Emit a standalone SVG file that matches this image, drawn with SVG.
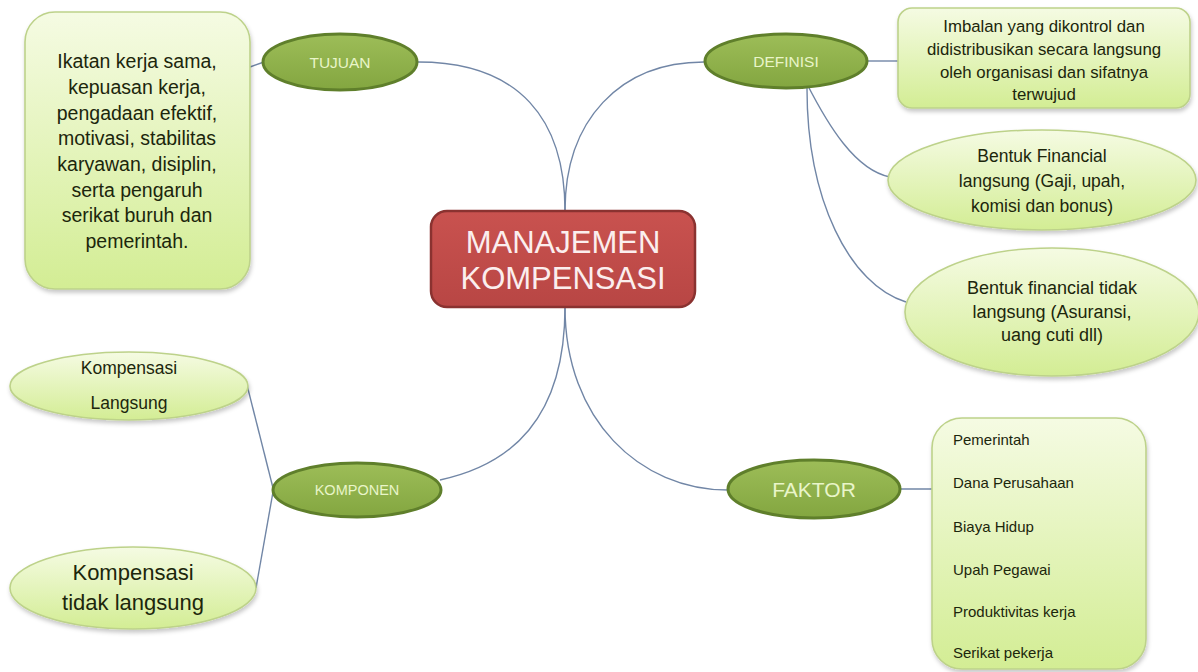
<svg xmlns="http://www.w3.org/2000/svg" width="1198" height="672" viewBox="0 0 1198 672">
<defs>
<linearGradient id="lg" x1="0" y1="0" x2="0" y2="1">
<stop offset="0" stop-color="#f5fbe3"/>
<stop offset="1" stop-color="#d3ed94"/>
</linearGradient>
<linearGradient id="gg" x1="0" y1="0" x2="0" y2="1">
<stop offset="0" stop-color="#9dbd58"/>
<stop offset="1" stop-color="#83a640"/>
</linearGradient>
<linearGradient id="rg" x1="0" y1="0" x2="0" y2="1">
<stop offset="0" stop-color="#c9524f"/>
<stop offset="1" stop-color="#b84644"/>
</linearGradient>
<filter id="sh" x="-10%" y="-10%" width="120%" height="125%">
<feDropShadow dx="1" dy="3" stdDeviation="2" flood-color="#000" flood-opacity="0.22"/>
</filter>
</defs>
<style>
.light{fill:url(#lg);stroke:#bdd28a;stroke-width:1.6;filter:url(#sh)}
.green{fill:url(#gg);stroke:#5f7f2b;stroke-width:3}
.gt{font-family:"Liberation Sans",Arial,sans-serif;fill:#e9f5c9;text-anchor:middle}
.t{font-family:"Liberation Sans",Arial,sans-serif;fill:#1c260c;text-anchor:middle}
.tl{font-family:"Liberation Sans",Arial,sans-serif;fill:#1c260c;font-size:15px}
.c{fill:none;stroke:#7186a6;stroke-width:1.4}
</style>
<rect width="1198" height="672" fill="#ffffff"/>
<g id="connectors">
<path class="c" d="M565,211 C565,120 520,62 418,62"/>
<path class="c" d="M565,211 C565,120 620,62 704,62"/>
<path class="c" d="M565,307 C565,420 510,465 440,480"/>
<path class="c" d="M565,307 C565,420 640,490 728,490"/>
<path class="c" d="M250,67 L264,62"/>
<path class="c" d="M867,61 L898,61"/>
<path class="c" d="M807,84 C828,125 855,170 890,177"/>
<path class="c" d="M807,84 C806,200 850,285 906,302"/>
<path class="c" d="M247,385 L273,488"/>
<path class="c" d="M273,492 L256,588"/>
<path class="c" d="M900,489 L934,489"/>
</g>
<g id="center">
<rect x="431" y="211" width="264" height="96" rx="16" fill="url(#rg)" stroke="#8a3230" stroke-width="2.5"/>
<text x="563" y="253" font-family="Liberation Sans,Arial,sans-serif" font-size="31" fill="#fbeeee" text-anchor="middle">MANAJEMEN</text>
<text x="563" y="289" font-family="Liberation Sans,Arial,sans-serif" font-size="31" fill="#fbeeee" text-anchor="middle">KOMPENSASI</text>
</g>
<g id="tujuan">
<ellipse class="green" cx="340" cy="62" rx="77" ry="28"/>
<text class="gt" x="340" y="68" font-size="15.5">TUJUAN</text>
</g>
<g id="tujuan-detail">
<rect class="light" x="25" y="12" width="225" height="277" rx="30"/>
<g class="t" font-size="19.5">
<text x="137" y="68">Ikatan kerja sama,</text>
<text x="137" y="94">kepuasan kerja,</text>
<text x="137" y="120">pengadaan efektif,</text>
<text x="137" y="145">motivasi, stabilitas</text>
<text x="137" y="171">karyawan, disiplin,</text>
<text x="137" y="197">serta pengaruh</text>
<text x="137" y="222">serikat buruh dan</text>
<text x="137" y="248">pemerintah.</text>
</g>
</g>
<g id="definisi">
<ellipse class="green" cx="786" cy="61" rx="81" ry="27"/>
<text class="gt" x="786" y="67" font-size="15.5">DEFINISI</text>
</g>
<g id="definisi-detail">
<rect class="light" x="898" y="8" width="292" height="100" rx="14"/>
<g class="t" font-size="16.8">
<text x="1044" y="32">Imbalan yang dikontrol dan</text>
<text x="1044" y="55">didistribusikan secara langsung</text>
<text x="1044" y="78">oleh organisasi dan sifatnya</text>
<text x="1044" y="100">terwujud</text>
</g>
</g>
<g id="financial-langsung">
<ellipse class="light" cx="1042" cy="180" rx="154" ry="50"/>
<g class="t" font-size="17.5">
<text x="1042" y="162">Bentuk Financial</text>
<text x="1042" y="187">langsung (Gaji, upah,</text>
<text x="1042" y="212">komisi dan bonus)</text>
</g>
</g>
<g id="financial-tidak-langsung">
<ellipse class="light" cx="1052" cy="312" rx="147" ry="64"/>
<g class="t" font-size="18">
<text x="1052" y="294">Bentuk financial tidak</text>
<text x="1052" y="318">langsung (Asuransi,</text>
<text x="1052" y="341">uang cuti dll)</text>
</g>
</g>
<g id="komponen">
<ellipse class="green" cx="357" cy="490" rx="84" ry="27"/>
<text class="gt" x="357" y="495" font-size="14.5">KOMPONEN</text>
</g>
<g id="kompensasi-langsung">
<ellipse class="light" cx="129" cy="386" rx="119" ry="34"/>
<g class="t" font-size="17.5">
<text x="129" y="374">Kompensasi</text>
<text x="129" y="409">Langsung</text>
</g>
</g>
<g id="kompensasi-tidak-langsung">
<ellipse class="light" cx="133" cy="588" rx="123" ry="41"/>
<g class="t" font-size="22">
<text x="133" y="580">Kompensasi</text>
<text x="133" y="610">tidak langsung</text>
</g>
</g>
<g id="faktor">
<ellipse class="green" cx="814" cy="489" rx="86" ry="29"/>
<text class="gt" x="814" y="497" font-size="21">FAKTOR</text>
</g>
<g id="faktor-detail">
<rect class="light" x="932" y="418" width="214" height="251" rx="30"/>
<text class="tl" x="953" y="445">Pemerintah</text>
<text class="tl" x="953" y="488">Dana Perusahaan</text>
<text class="tl" x="953" y="532">Biaya Hidup</text>
<text class="tl" x="953" y="575">Upah Pegawai</text>
<text class="tl" x="953" y="617">Produktivitas kerja</text>
<text class="tl" x="953" y="658">Serikat pekerja</text>
</g>
</svg>
